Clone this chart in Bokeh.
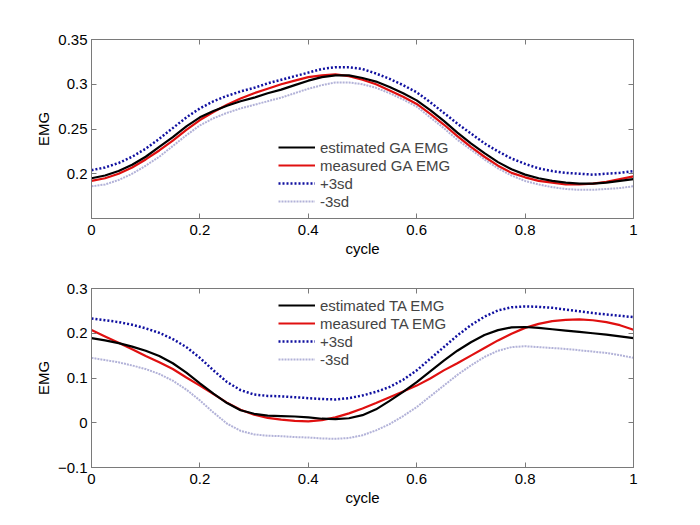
from bokeh.plotting import figure
from bokeh.layouts import column
from bokeh.models import LinearAxis, Range1d, Legend, LegendItem, FixedTicker
from bokeh.embed import file_html
from bokeh.resources import INLINE

cycle = [0.0, 0.025, 0.05, 0.075, 0.1, 0.125, 0.15, 0.175, 0.2, 0.225,
         0.25, 0.275, 0.3, 0.325, 0.35, 0.375, 0.4, 0.425, 0.45, 0.475,
         0.5, 0.525, 0.55, 0.575, 0.6, 0.625, 0.65, 0.675, 0.7, 0.725,
         0.75, 0.775, 0.8, 0.825, 0.85, 0.875, 0.9, 0.925, 0.95, 0.975, 1.0]

ga_est = [0.195, 0.198, 0.203, 0.210, 0.219, 0.230, 0.241, 0.253, 0.263, 0.270,
          0.276, 0.281, 0.285, 0.290, 0.294, 0.299, 0.304, 0.308, 0.310, 0.310,
          0.307, 0.303, 0.297, 0.290, 0.282, 0.271, 0.259, 0.246, 0.234, 0.223,
          0.213, 0.205, 0.199, 0.195, 0.192, 0.190, 0.189, 0.189, 0.190, 0.192, 0.194]
ga_meas = [0.192, 0.195, 0.200, 0.207, 0.216, 0.226, 0.237, 0.249, 0.260, 0.269,
           0.277, 0.284, 0.290, 0.295, 0.300, 0.304, 0.308, 0.310, 0.311, 0.309,
           0.305, 0.300, 0.293, 0.286, 0.278, 0.267, 0.255, 0.242, 0.230, 0.219,
           0.209, 0.201, 0.196, 0.192, 0.190, 0.188, 0.188, 0.189, 0.191, 0.194, 0.197]
ga_plus = [0.204, 0.207, 0.212, 0.219, 0.228, 0.239, 0.251, 0.263, 0.273, 0.281,
           0.287, 0.292, 0.296, 0.301, 0.305, 0.309, 0.313, 0.317, 0.319, 0.319,
           0.317, 0.312, 0.306, 0.299, 0.291, 0.280, 0.268, 0.256, 0.245, 0.234,
           0.225, 0.217, 0.211, 0.206, 0.203, 0.201, 0.200, 0.199, 0.200, 0.201, 0.203]
ga_minus = [0.186, 0.188, 0.193, 0.200, 0.209, 0.219, 0.231, 0.243, 0.254, 0.262,
            0.268, 0.273, 0.277, 0.281, 0.285, 0.290, 0.295, 0.299, 0.302, 0.302,
            0.300, 0.296, 0.290, 0.283, 0.275, 0.263, 0.251, 0.238, 0.227, 0.216,
            0.206, 0.198, 0.192, 0.188, 0.185, 0.183, 0.182, 0.182, 0.183, 0.184, 0.186]

ta_est = [0.189, 0.184, 0.178, 0.170, 0.161, 0.149, 0.133, 0.112, 0.088, 0.065,
          0.044, 0.028, 0.020, 0.016, 0.015, 0.014, 0.012, 0.009, 0.008, 0.010,
          0.017, 0.030, 0.049, 0.069, 0.091, 0.115, 0.139, 0.161, 0.180, 0.196,
          0.207, 0.213, 0.214, 0.212, 0.209, 0.206, 0.203, 0.200, 0.197, 0.193, 0.189]
ta_meas = [0.207, 0.193, 0.179, 0.164, 0.149, 0.135, 0.120, 0.101, 0.083, 0.064,
           0.045, 0.029, 0.018, 0.011, 0.007, 0.004, 0.003, 0.006, 0.012, 0.021,
           0.032, 0.044, 0.057, 0.070, 0.083, 0.099, 0.117, 0.133, 0.150, 0.167,
           0.184, 0.199, 0.212, 0.221, 0.227, 0.230, 0.231, 0.229, 0.225, 0.218, 0.208]
ta_plus = [0.233, 0.229, 0.225, 0.219, 0.211, 0.201, 0.187, 0.169, 0.145, 0.117,
           0.091, 0.073, 0.063, 0.060, 0.059, 0.057, 0.055, 0.053, 0.052, 0.055,
           0.061, 0.069, 0.080, 0.096, 0.117, 0.143, 0.169, 0.195, 0.218, 0.237,
           0.251, 0.258, 0.260, 0.259, 0.257, 0.253, 0.249, 0.245, 0.242, 0.239, 0.236]
ta_minus = [0.145, 0.140, 0.135, 0.128, 0.120, 0.109, 0.094, 0.074, 0.050, 0.023,
            -0.002, -0.018, -0.026, -0.029, -0.030, -0.032, -0.033, -0.035, -0.036, -0.034,
            -0.028, -0.017, -0.003, 0.015, 0.035, 0.059, 0.083, 0.107, 0.128, 0.147,
            0.161, 0.169, 0.171, 0.169, 0.167, 0.165, 0.162, 0.159, 0.156, 0.151, 0.145]

x_ticks = [0, 0.2, 0.4, 0.6, 0.8, 1.0]
ga_ticks = [0.2, 0.25, 0.3, 0.35]
ta_ticks = [-0.1, 0, 0.1, 0.2, 0.3]

FONT = "Liberation Sans"
AXCOL = "#7a7a7a"


def style_axis(ax, show_labels=True):
    ax.axis_line_color = AXCOL
    ax.major_tick_line_color = AXCOL
    ax.minor_tick_line_color = None
    ax.major_tick_in = 5
    ax.major_tick_out = 0
    ax.major_label_text_font = FONT
    ax.major_label_text_font_size = "15px"
    ax.major_label_text_color = "black" if show_labels else None
    ax.axis_label_text_font = FONT
    ax.axis_label_text_font_size = "15px"
    ax.axis_label_text_font_style = "normal"
    ax.axis_label_text_color = "black"


def make_panel(y_range, yticks, est, meas, plus, minus, name, top_b, bot_b, leg_y):
    p = figure(frame_width=542, frame_height=179, output_backend="svg",
               toolbar_location=None, x_range=Range1d(0, 1), y_range=y_range,
               min_border_left=91, min_border_right=55,
               min_border_top=top_b, min_border_bottom=bot_b)
    p.xgrid.visible = False
    p.ygrid.visible = False
    p.outline_line_color = AXCOL
    p.background_fill_color = "white"
    p.border_fill_color = "white"
    p.xaxis.ticker = FixedTicker(ticks=x_ticks)
    p.yaxis.ticker = FixedTicker(ticks=yticks)
    p.xaxis.axis_label = "cycle"
    p.yaxis.axis_label = "EMG"
    p.xaxis.major_label_standoff = 6
    p.yaxis.major_label_standoff = 4
    p.xaxis.axis_label_standoff = 2
    p.yaxis.axis_label_standoff = 3
    style_axis(p.xaxis[0])
    style_axis(p.yaxis[0])
    ax_top = LinearAxis(ticker=FixedTicker(ticks=x_ticks))
    ax_right = LinearAxis(ticker=FixedTicker(ticks=yticks))
    style_axis(ax_top, False)
    style_axis(ax_right, False)
    ax_top.major_label_text_font_size = "0px"
    ax_right.major_label_text_font_size = "0px"
    ax_top.major_label_standoff = 0
    ax_right.major_label_standoff = 0
    p.add_layout(ax_top, "above")
    p.add_layout(ax_right, "right")

    r_minus = p.line(cycle, minus, line_color="#b2b2d8", line_width=2, line_dash="2 1")
    r_plus = p.line(cycle, plus, line_color="#1010a0", line_width=2.5, line_dash="2 2")
    r_meas = p.line(cycle, meas, line_color="#e01010", line_width=2.2)
    r_est = p.line(cycle, est, line_color="black", line_width=2.2)

    legend = Legend(items=[
        LegendItem(label="estimated %s EMG" % name, renderers=[r_est]),
        LegendItem(label="measured %s EMG" % name, renderers=[r_meas]),
        LegendItem(label="+3sd", renderers=[r_plus]),
        LegendItem(label="-3sd", renderers=[r_minus]),
    ], location=(187, leg_y))
    legend.padding = 0
    legend.margin = 0
    legend.spacing = 0
    legend.glyph_width = 37
    legend.glyph_height = 18
    legend.label_height = 18
    legend.label_standoff = 5
    legend.label_text_font = FONT
    legend.label_text_font_size = "15px"
    legend.border_line_color = None
    legend.background_fill_alpha = 0
    p.add_layout(legend, "center")
    return p


p1 = make_panel(Range1d(0.15, 0.35), ga_ticks, ga_est, ga_meas, ga_plus, ga_minus,
                "GA", 39, 44, 8)
p2 = make_panel(Range1d(-0.1, 0.3), ta_ticks, ta_est, ta_meas, ta_plus, ta_minus,
                "TA", 26, 45, 99)

layout = column(p1, p2, spacing=0)
open("out.html", "w").write(file_html(layout, INLINE))
